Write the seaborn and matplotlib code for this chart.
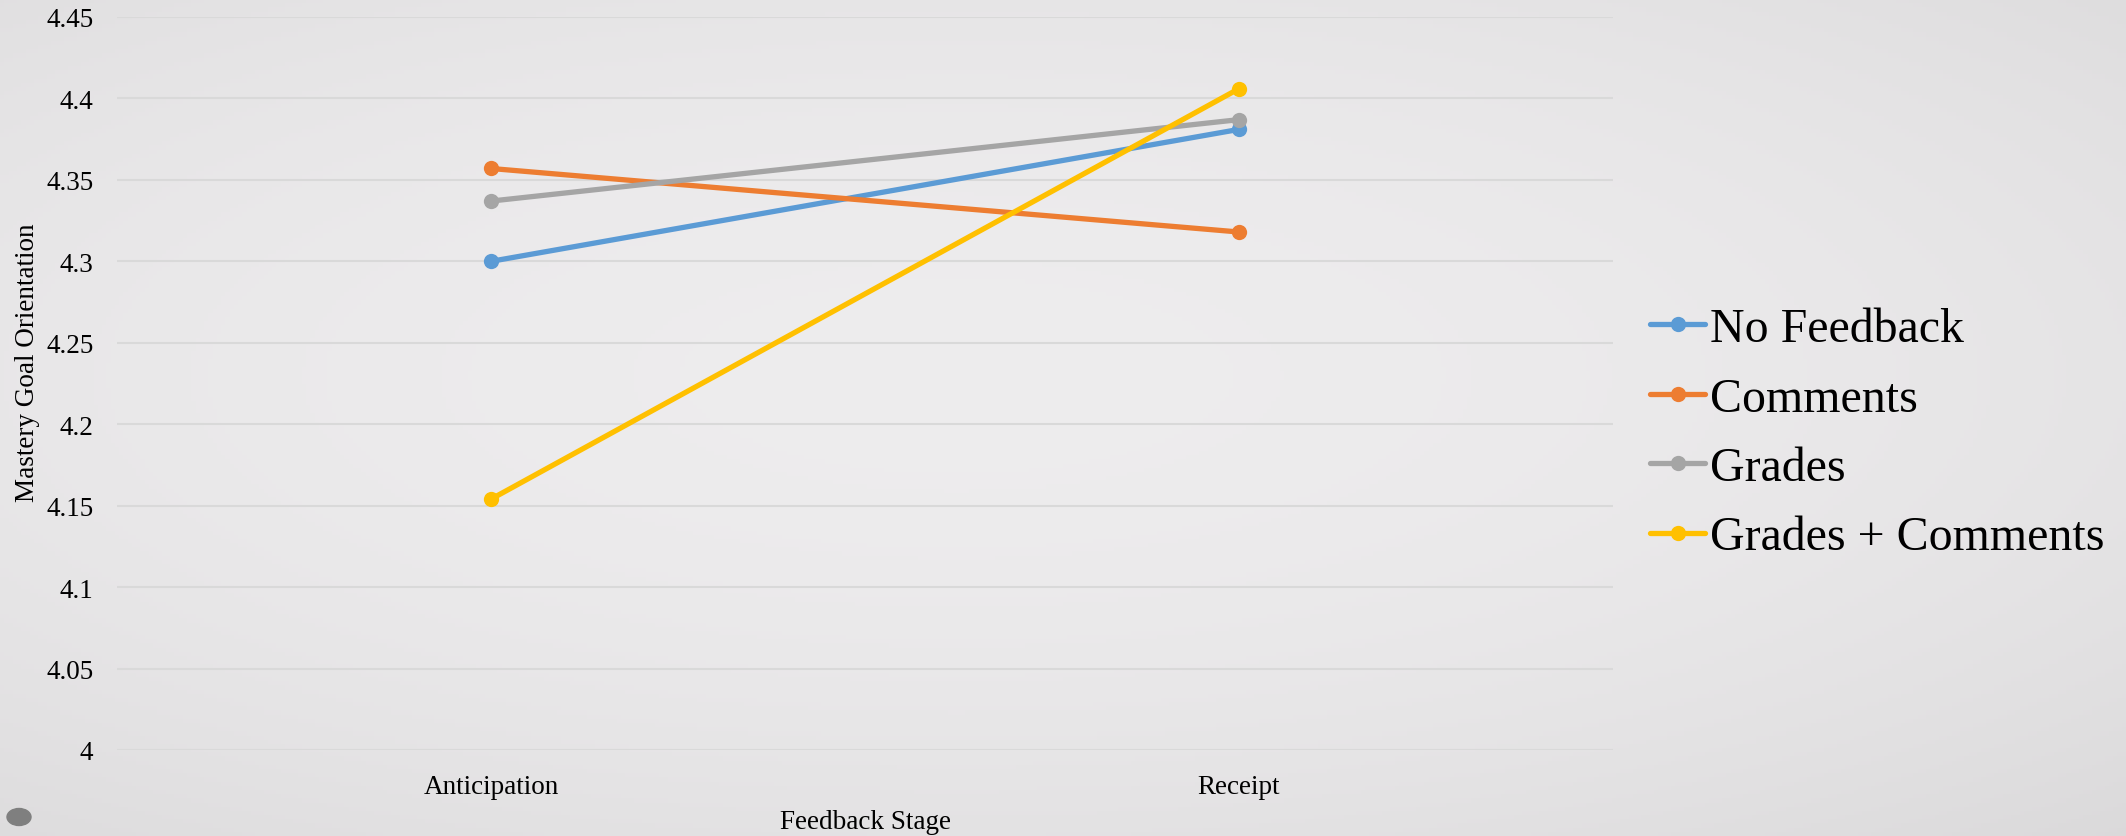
import numpy as np
import pandas as pd
import matplotlib
matplotlib.use("Agg")
import matplotlib.pyplot as plt
from matplotlib.patches import Ellipse
import seaborn as sns

# Mean mastery goal orientation by feedback condition and stage
stages = ["Anticipation", "Receipt"]
groups = ["No Feedback", "Comments", "Grades", "Grades + Comments"]
no_feedback = [4.300, 4.381]
comments = [4.357, 4.318]
grades = [4.337, 4.387]
grades_comments = [4.154, 4.406]
y_ticks = [4.0, 4.05, 4.1, 4.15, 4.2, 4.25, 4.3, 4.35, 4.4, 4.45]
y_tick_labels = ["4", "4.05", "4.1", "4.15", "4.2", "4.25", "4.3", "4.35", "4.4", "4.45"]
palette = ["#5B9BD5", "#ED7D31", "#A5A5A5", "#FFC000"]

rows = []
for g, vals in zip(groups, [no_feedback, comments, grades, grades_comments]):
    for s, v in zip(stages, vals):
        rows.append({"Stage": s, "Group": g, "Score": v})
df = pd.DataFrame(rows)

sns.set_theme(style="white")
plt.rcParams["font.family"] = ["Liberation Serif", "DejaVu Serif"]

W, H = 2126, 837
fig = plt.figure(figsize=(W / 100, H / 100), dpi=100)

# soft slide-style background gradient
bg = fig.add_axes([0, 0, 1, 1], zorder=-10)
yy, xx = np.mgrid[0:1:200j, 0:1:500j]
r = np.sqrt(((xx - 0.45) / 1.0) ** 2 + ((yy - 0.55) / 0.9) ** 2)
shade = 0.932 - 0.11 * np.clip(r, 0, 1) ** 2
bg.imshow(np.dstack([shade, shade * 0.995, shade]), extent=[0, 1, 0, 1],
          aspect="auto", origin="lower")
bg.set_axis_off()
bg.add_patch(Ellipse((19 / W, 1 - 818 / H), 24 / W, 17 / H, color="#7f7f7f",
                     transform=bg.transAxes))

ax = fig.add_axes([117 / W, 1 - 751 / H, (1613 - 117) / W, (751 - 18) / H])
ax.patch.set_alpha(0)

sns.lineplot(data=df, x="Stage", y="Score", hue="Group", hue_order=groups,
             palette=palette, marker="o", markersize=11, markeredgewidth=0,
             linewidth=3.8, ax=ax, sort=False)

ax.set_xlim(-0.5, 1.5)
ax.set_ylim(4.0, 4.45)
ax.set_yticks(y_ticks)
ax.set_yticklabels(y_tick_labels)
ax.grid(axis="y", color="#d9d9d9", linewidth=1.5)
ax.grid(axis="x", visible=False)
for sp in ax.spines.values():
    sp.set_visible(False)
ax.tick_params(axis="both", length=0, labelsize=19.5, colors="black")
ax.tick_params(axis="x", pad=17)
ax.tick_params(axis="y", pad=17)

ax.set_xlabel("Feedback Stage", fontsize=19.5, color="black")
ax.set_ylabel("Mastery Goal Orientation", fontsize=19.5, color="black")
ax.xaxis.set_label_coords(0.5, (751 - 810) / 733)
ax.yaxis.set_label_coords((40 - 117) / 1496, 0.53)

handles, labels = ax.get_legend_handles_labels()
leg = ax.legend(handles, labels, loc="center left", bbox_to_anchor=(1.012, 0.432),
                frameon=False, fontsize=34.5, handlelength=1.15, handletextpad=0.1,
                labelspacing=0.53, borderaxespad=0)
for t in leg.get_texts():
    t.set_color("black")

fig.savefig("out.png", dpi=100)
